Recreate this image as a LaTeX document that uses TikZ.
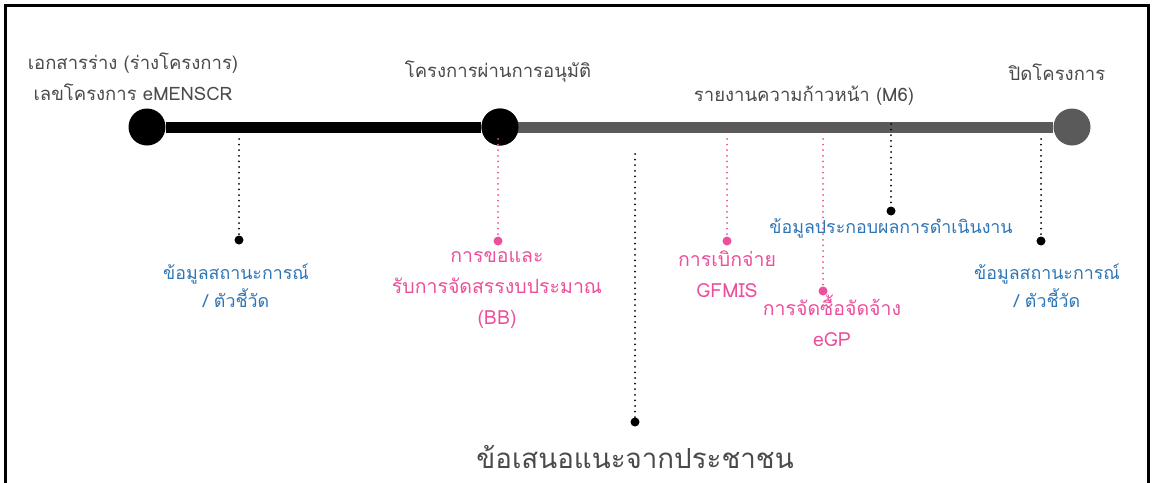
\documentclass[tikz,border=0pt]{standalone}
\usepackage{fontspec}
\newfontfamily\thai[Script=Thai]{Loma}
\definecolor{txtgray}{HTML}{4A4A4A}
\definecolor{linegray}{HTML}{5A5A5A}
\definecolor{tblue}{HTML}{2E75B6}
\definecolor{tpink}{HTML}{EC4F9B}
\tikzset{
  bigdot/.style={circle,fill=#1,minimum size=37pt,inner sep=0pt},
  smalldot/.style={circle,fill=#1,minimum size=9pt,inner sep=0pt},
  dotline/.style={draw=#1,line width=2pt,dash pattern=on 0pt off 5.6pt,line cap=round},
  toplabel/.style={font=\thai\fontsize{18.5}{31}\selectfont,text=txtgray,align=center,inner sep=0pt},
  bluelabel/.style={font=\thai\fontsize{17.8}{28}\selectfont,text=tblue,align=center,inner sep=0pt},
  pinklabel/.style={font=\thai\fontsize{19.5}{31}\selectfont,text=tpink,align=center,inner sep=0pt},
  biglabel/.style={font=\thai\fontsize{27.7}{34}\selectfont,text=txtgray,align=center,inner sep=0pt},
}
\begin{document}
\begin{tikzpicture}[x=1pt,y=-1pt]
\useasboundingbox (0,0) rectangle (1153,482);
% frame
\draw[line width=3pt] (5,490) -- (5,5) -- (1148,5) -- (1148,490);
% milestones
\node[bigdot=black] (m1) at (147,127) {};
\node[bigdot=black] (m2) at (500,127) {};
\node[bigdot=linegray] (m3) at (1072,127) {};
\draw[linegray,line width=11pt] (m2.center) -- (m3);
\draw[black,line width=11pt] (m1) -- (m2);
\node[bigdot=black] at (m2.center) {};
% top labels
\node[toplabel] (t1) at (133,77) {เอกสารร่าง (ร่างโครงการ)\\เลขโครงการ eMENSCR};
\node[toplabel] (t2) at (498,72) {โครงการผ่านการอนุมัติ};
\node[toplabel] (t3) at (804,96) {รายงานความก้าวหน้า (M6)};
\node[toplabel] (t4) at (1057,72) {ปิดโครงการ};
% branch start points
\coordinate (s1) at (239,139);
\coordinate (s2) at (498,139);
\coordinate (s3) at (635,154);
\coordinate (s4) at (727,139);
\coordinate (s5) at (823,139);
\coordinate (s6) at (891,124);
\coordinate (s7) at (1041,139);
% end dots
\node[smalldot=black] (d1) at (239,240) {};
\node[smalldot=tpink] (d2) at (498,241) {};
\node[smalldot=black] (d3) at (635,422) {};
\node[smalldot=tpink] (d4) at (727,241) {};
\node[smalldot=tpink] (d5) at (823,291) {};
\node[smalldot=black] (d6) at (891,211) {};
\node[smalldot=black] (d7) at (1041,241) {};
% connectors
\draw[dotline=black] (s1) -- (d1);
\draw[dotline=tpink] (s2) -- (d2);
\draw[dotline=black] (s3) -- (d3);
\draw[dotline=tpink] (s4) -- (d4);
\draw[dotline=tpink] (s5) -- (d5);
\draw[dotline=black] (s6) -- (d6);
\draw[dotline=black] (s7) -- (d7);
% labels
\node[bluelabel] (l1) at (236,286) {ข้อมูลสถานะการณ์\\/ ตัวชี้วัด};
\node[pinklabel] (l2) at (497,290) {การขอและ\\รับการจัดสรรงบประมาณ\\(BB)};
\node[biglabel] (l3) at (635,457) {ข้อเสนอแนะจากประชาชน};
\node[pinklabel] (l4) at (727,274) {การเบิกจ่าย\\GFMIS};
\node[pinklabel] (l5) at (832,321) {การจัดซื้อจัดจ้าง\\eGP};
\node[bluelabel] (l6) at (891,228) {ข้อมูลประกอบผลการดำเนินงาน};
\node[bluelabel] (l7) at (1047,286) {ข้อมูลสถานะการณ์\\/ ตัวชี้วัด};
\end{tikzpicture}
\end{document}
